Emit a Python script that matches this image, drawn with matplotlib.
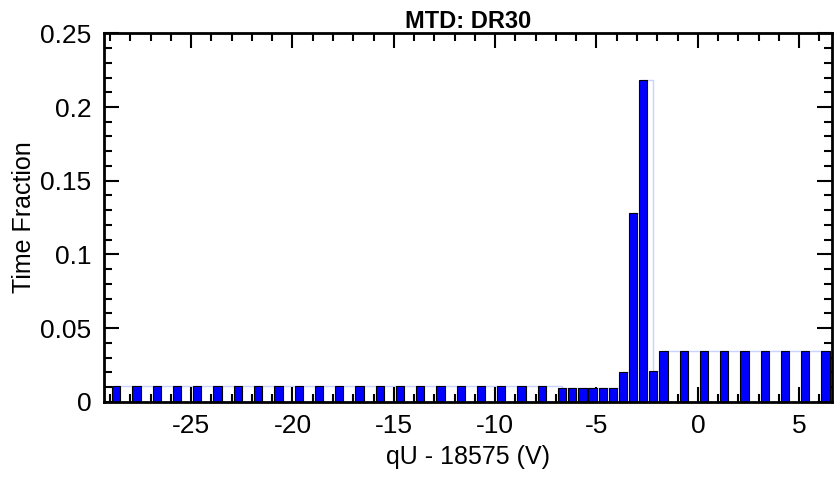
import numpy as np
import matplotlib
matplotlib.use("Agg")
from matplotlib import pyplot as plt
from matplotlib.ticker import MultipleLocator

# left edges of the bars (qU - 18575, V) and time fractions
qU_left = [-28.9, -27.9, -26.9, -25.9, -24.9, -23.9, -22.9, -21.9, -20.9, -19.9, -18.9,
           -17.9, -16.9, -15.9, -14.9, -13.9, -12.9, -11.9, -10.9, -9.9, -8.9, -7.9,
           -6.9, -6.4, -5.9, -5.4, -4.9, -4.4, -3.9, -3.4, -2.9, -2.4,
           -1.9, -0.9, 0.1, 1.1, 2.1, 3.1, 4.1, 5.1, 6.1]
frac = [0.011] * 22 + [0.009, 0.009, 0.009, 0.009, 0.0093, 0.009, 0.0205, 0.128, 0.218, 0.021] + [0.0344] * 9
bar_w = 0.41

plt.rcParams['font.family'] = ['Liberation Sans', 'DejaVu Sans']
plt.rcParams['axes.unicode_minus'] = False
fig = plt.figure(figsize=(8.36, 4.8), dpi=100)
ax = fig.add_axes([0.1244, 0.163, 0.8708, 0.7676])

left = np.array(qU_left)
h = np.array(frac)
# faint step outline through the bar centres
ax.step(np.append(left + bar_w / 2, 7.5), np.append(h, h[-1]), where='post',
        color='#c8d4ff', lw=1, zorder=1)
ax.bar(left, h, width=bar_w, align='edge', color='#0000ff',
       edgecolor='black', linewidth=0.8, zorder=2)

ax.set_xlim(-29.3, 6.62)
ax.set_ylim(0, 0.25)
ax.xaxis.set_major_locator(MultipleLocator(5))
ax.xaxis.set_minor_locator(MultipleLocator(1))
ax.yaxis.set_minor_locator(MultipleLocator(0.01))
ax.set_yticks([0, 0.05, 0.1, 0.15, 0.2, 0.25])
ax.set_yticklabels(['0', '0.05', '0.1', '0.15', '0.2', '0.25'])

ax.tick_params(which='both', direction='in', top=True, right=True, width=1.5,
               labelsize=19, colors='black')
ax.tick_params(which='major', length=11, pad=9)
ax.tick_params(which='minor', length=6)
for s in ax.spines.values():
    s.set_linewidth(2)

ax.set_xlabel('qU - 18575 (V)', fontsize=18, labelpad=5)
ax.set_ylabel('Time Fraction', fontsize=18, labelpad=3)
ax.set_title('MTD: DR30', fontsize=17, fontweight='bold', pad=1)

plt.savefig('out.png', dpi=100)
